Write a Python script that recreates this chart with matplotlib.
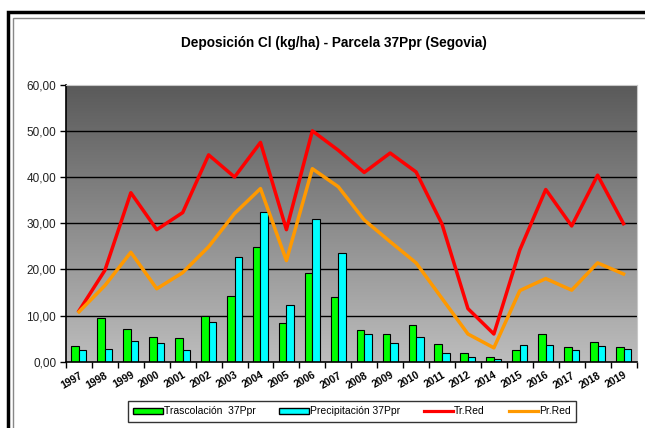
import numpy as np
import matplotlib.pyplot as plt
from matplotlib.patches import Patch, Rectangle
from matplotlib.lines import Line2D

plt.rcParams['font.family'] = ['Liberation Sans', 'DejaVu Sans']

# dati
anni = ['1997', '1998', '1999', '2000', '2001', '2002', '2003', '2004', '2005', '2006', '2007',
        '2008', '2009', '2010', '2011', '2012', '2014', '2015', '2016', '2017', '2018', '2019']
trascolacion = [3.5, 9.5, 7.0, 5.4, 5.2, 10.0, 14.2, 24.9, 8.3, 19.3, 14.0,
                6.8, 6.1, 7.9, 3.8, 1.8, 1.1, 2.5, 5.9, 3.2, 4.3, 3.1]
precipitacion = [2.5, 2.7, 4.5, 4.1, 2.5, 8.5, 22.7, 32.5, 12.3, 31.0, 23.6,
                 6.0, 4.0, 5.3, 1.8, 1.1, 0.65, 3.6, 3.7, 2.5, 3.5, 2.7]
tr_red = [11.0, 19.8, 36.6, 28.6, 32.3, 44.8, 40.0, 47.5, 28.6, 50.0, 45.8,
          41.0, 45.2, 41.1, 29.8, 11.5, 6.0, 24.2, 37.3, 29.4, 40.4, 29.9]
pr_red = [10.8, 16.5, 23.7, 15.8, 19.3, 24.9, 32.1, 37.5, 21.9, 41.8, 37.9,
          30.7, 26.0, 21.4, 13.7, 6.0, 3.0, 15.4, 18.0, 15.5, 21.4, 19.0]

fig = plt.figure(figsize=(6.45, 4.28), dpi=100)
ax = fig.add_axes([66 / 645, 1 - 361.7 / 428, (636.5 - 66) / 645, (361.7 - 84.7) / 428])

x = np.arange(len(anni))
w = 0.29

# sfondo sfumato
grad = np.linspace(0, 1, 256).reshape(-1, 1)
ax.imshow(grad, extent=[-0.5, len(anni) - 0.5, 0, 60], aspect='auto',
          cmap=plt.matplotlib.colors.LinearSegmentedColormap.from_list('g', ['#bdbdbd', '#5a5a5a']),
          origin='lower', zorder=0)

for yv in range(10, 60, 10):
    ax.axhline(yv, color='black', lw=1, zorder=1)

ax.bar(x - w / 2, trascolacion, w, color='#00ff00', edgecolor='black', lw=0.8, zorder=2)
ax.bar(x + w / 2, precipitacion, w, color='#00ffff', edgecolor='black', lw=0.8, zorder=2)
ax.plot(x, tr_red, color='#ff0000', lw=2.5, zorder=3)
ax.plot(x, pr_red, color='#ff9900', lw=2.5, zorder=3)

ax.set_xlim(-0.5, len(anni) - 0.5)
ax.set_ylim(0, 60)
ax.set_yticks(range(0, 61, 10))
ax.set_yticklabels([f'{v},00' for v in range(0, 61, 10)], fontsize=8.5, color='#222222')
ax.set_xticks(x)
ax.set_xticklabels(anni, rotation=30, ha='right', rotation_mode='anchor', fontsize=7.5, fontweight='bold')
ax.set_xticks(np.arange(-0.5, len(anni)), minor=True)
ax.tick_params(axis='x', which='major', length=0, pad=6)
ax.tick_params(axis='x', which='minor', length=4, direction='out', width=1)
ax.tick_params(axis='y', length=4, direction='out', width=1, pad=3)

for s in ['top', 'right']:
    ax.spines[s].set_color('#c8c8c8')
for s in ['left', 'bottom']:
    ax.spines[s].set_linewidth(1.2)

fig.text(334 / 645, 1 - 43 / 428, 'Deposición Cl (kg/ha) - Parcela 37Ppr (Segovia)',
         ha='center', va='center', fontsize=9.8, fontweight='bold')

# bordo esterno
fig.patches.append(Rectangle((7.5 / 645, -0.1), 1.2, 1 - 12 / 428 + 0.1, transform=fig.transFigure,
                             fill=False, edgecolor='black', lw=2.5))
fig.patches.append(Rectangle((12.5 / 645, -0.1), 1.2, 1 - 17.5 / 428 + 0.1, transform=fig.transFigure,
                             fill=False, edgecolor='#888888', lw=1))

handles = [Patch(facecolor='#00ff00', edgecolor='black', label='Trascolación  37Ppr'),
           Patch(facecolor='#00ffff', edgecolor='black', label='Precipitación 37Ppr'),
           Line2D([], [], color='#ff0000', lw=2.3, label='Tr.Red'),
           Line2D([], [], color='#ff9900', lw=2.3, label='Pr.Red')]
leg = fig.legend(handles=handles, loc='center', bbox_to_anchor=(352 / 645, 1 - 411.5 / 428),
                 ncol=4, fontsize=7.5, frameon=True, fancybox=False, handlelength=2.8,
                 handleheight=0.6, handletextpad=0.1, columnspacing=2.3, borderpad=0.5)
leg.get_frame().set_edgecolor('black')
leg.get_frame().set_linewidth(1)

fig.savefig('out.png', dpi=100)
